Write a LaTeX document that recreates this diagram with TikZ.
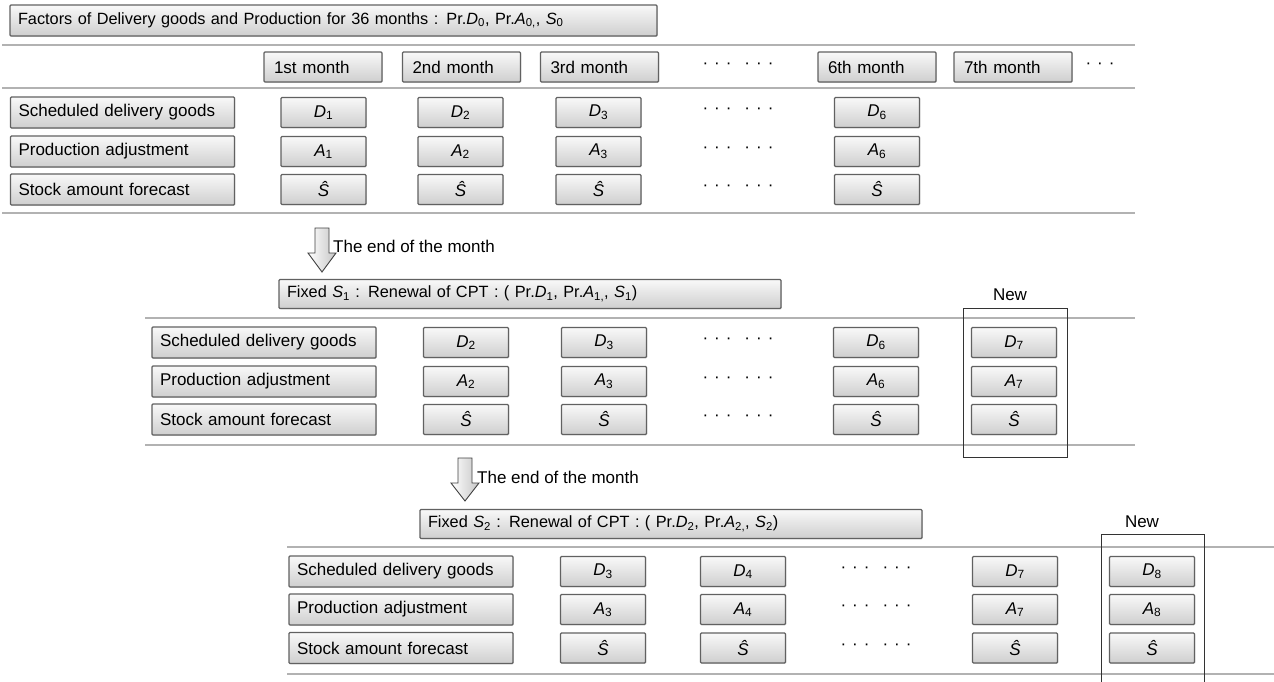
\documentclass[tikz,border=0pt]{standalone}
\usepackage{fontspec}
\setmainfont{Liberation Sans}
\usetikzlibrary{shadows}
\newcommand{\fs}{\fontsize{17}{20}\selectfont}
\newcommand{\fsm}{\fontsize{16.3}{19}\selectfont}
\newcommand{\dd}[2]{\textit{#1}\textsubscript{#2}}
\newcommand{\sh}{\textit{Ŝ}}
\newcommand{\sixdots}{·\hspace{6pt}·\hspace{6pt}·\hspace{13pt}·\hspace{6pt}·\hspace{6pt}·}
\tikzset{
  box/.style={draw=black!62, line width=1.3pt, top color=gray!5, bottom color=gray!38,
    rounded corners=1pt, inner sep=0pt, font=\fs,
    drop shadow={shadow xshift=0.8pt, shadow yshift=-0.8pt, opacity=0.25}},
  valbox/.style={box, minimum width=85pt, minimum height=30pt},
  lblbox/.style={box, minimum height=31pt, text width=208pt, align=left, inner xsep=8pt},
  monbox/.style={box, minimum height=30pt, text width=98pt, align=left, inner xsep=10pt},
  fixbox/.style={box, font=\fsm, minimum height=29pt, text width=486pt, align=left, inner xsep=8pt},
  sep/.style={draw=gray!60, line width=2.4pt},
  newrect/.style={draw=black!80, line width=1pt},
  plain/.style={font=\fs, inner sep=0pt},
  blockarrow/.style={draw=gray!50!black, line width=0.9pt, left color=white, right color=gray!45},
}
\begin{document}
\begin{tikzpicture}[x=1pt,y=-1pt]
\useasboundingbox (0,0) rectangle (1274,682);
% ---------------- Section 1 ----------------
\node[box, font=\fsm, minimum height=31pt, text width=631pt, align=left, inner xsep=8pt] (title) at (333.5,20.5)
  {Factors of Delivery goods and Production for 36 months : Pr.\dd{D}{0}, Pr.\dd{A}{0,}, \dd{S}{0}};
\draw[sep] (2,45) -- (1135,45);
\draw[sep] (2,88) -- (1135,88);
\draw[sep] (2,213) -- (1135,213);
\node[monbox] (m1) at (323,67) {1st month};
\node[monbox] (m2) at (461.5,67) {2nd month};
\node[monbox] (m3) at (599.5,67) {3rd month};
\node[plain] (md) at (738,66) {\sixdots};
\node[monbox] (m6) at (877,67) {6th month};
\node[monbox] (m7) at (1013,67) {7th month};
\node[plain] (mdd) at (1100,66) {·\hspace{6pt}·\hspace{6pt}·};
\node[lblbox] (l1a) at (122.5,112.5) {Scheduled delivery goods};
\node[lblbox] (l1b) at (122.5,151.5) {Production adjustment};
\node[lblbox] (l1c) at (122.5,189.5) {Stock amount forecast};
\foreach \cx/\k/\n in {323.5/1/a, 460.5/2/b, 598.5/3/c, 877/6/f}{
  \node[valbox] (d1\n) at (\cx,112.5) {\dd{D}{\k}};
  \node[valbox] (a1\n) at (\cx,151.5) {\dd{A}{\k}};
  \node[valbox] (s1\n) at (\cx,189.5) {\sh};
}
\node[plain] (dt1a) at (738,111) {\sixdots};
\node[plain] (dt1b) at (738,150) {\sixdots};
\node[plain] (dt1c) at (738,188) {\sixdots};
% ---------------- Section 2 ----------------
\draw[blockarrow, shift={(322,228)}] (-7,0) -- (7,0) -- (7,25) -- (14,25) -- (0,44) -- (-14,25) -- (-7,25) -- cycle;
\node[plain, anchor=west] (e1) at (333,246) {The end of the month};
\node[fixbox] (f1) at (530,294)
  {Fixed \dd{S}{1} : Renewal of CPT : ( Pr.\dd{D}{1}, Pr.\dd{A}{1,}, \dd{S}{1})};
\draw[sep] (145,318) -- (1135,318);
\draw[sep] (145,445) -- (1135,445);
\node[plain] (new1) at (1010,295) {New};
\draw[newrect] (963,308) rectangle (1067,457);
\node[lblbox] (l2a) at (264,342.5) {Scheduled delivery goods};
\node[lblbox] (l2b) at (264,381.5) {Production adjustment};
\node[lblbox] (l2c) at (264,419.5) {Stock amount forecast};
\foreach \cx/\k/\n in {466/2/a, 604/3/b, 876/6/c, 1014/7/d}{
  \node[valbox] (d2\n) at (\cx,342.5) {\dd{D}{\k}};
  \node[valbox] (a2\n) at (\cx,381.5) {\dd{A}{\k}};
  \node[valbox] (s2\n) at (\cx,419.5) {\sh};
}
\node[plain] (dt2a) at (738,341) {\sixdots};
\node[plain] (dt2b) at (738,380) {\sixdots};
\node[plain] (dt2c) at (738,418) {\sixdots};
% ---------------- Section 3 ----------------
\draw[blockarrow, shift={(465,458)}] (-7,0) -- (7,0) -- (7,25) -- (14,25) -- (0,43) -- (-14,25) -- (-7,25) -- cycle;
\node[plain, anchor=west] (e2) at (477,477) {The end of the month};
\node[fixbox] (f2) at (671,524)
  {Fixed \dd{S}{2} : Renewal of CPT : ( Pr.\dd{D}{2}, Pr.\dd{A}{2,}, \dd{S}{2})};
\draw[sep] (287,547) -- (1274,547);
\draw[sep] (287,674) -- (1274,674);
\node[plain] (new2) at (1142,522) {New};
\draw[newrect] (1101,690) -- (1101,534) -- (1204,534) -- (1204,690);
\node[lblbox] (l3a) at (401,571.5) {Scheduled delivery goods};
\node[lblbox] (l3b) at (401,609.5) {Production adjustment};
\node[lblbox] (l3c) at (401,648) {Stock amount forecast};
\foreach \cx/\k/\n in {603/3/a, 743/4/b, 1015/7/c, 1152/8/d}{
  \node[valbox] (d3\n) at (\cx,571.5) {\dd{D}{\k}};
  \node[valbox] (a3\n) at (\cx,609.5) {\dd{A}{\k}};
  \node[valbox] (s3\n) at (\cx,648) {\sh};
}
\node[plain] (dt3a) at (876,570) {\sixdots};
\node[plain] (dt3b) at (876,608) {\sixdots};
\node[plain] (dt3c) at (876,647) {\sixdots};
\end{tikzpicture}
\end{document}
